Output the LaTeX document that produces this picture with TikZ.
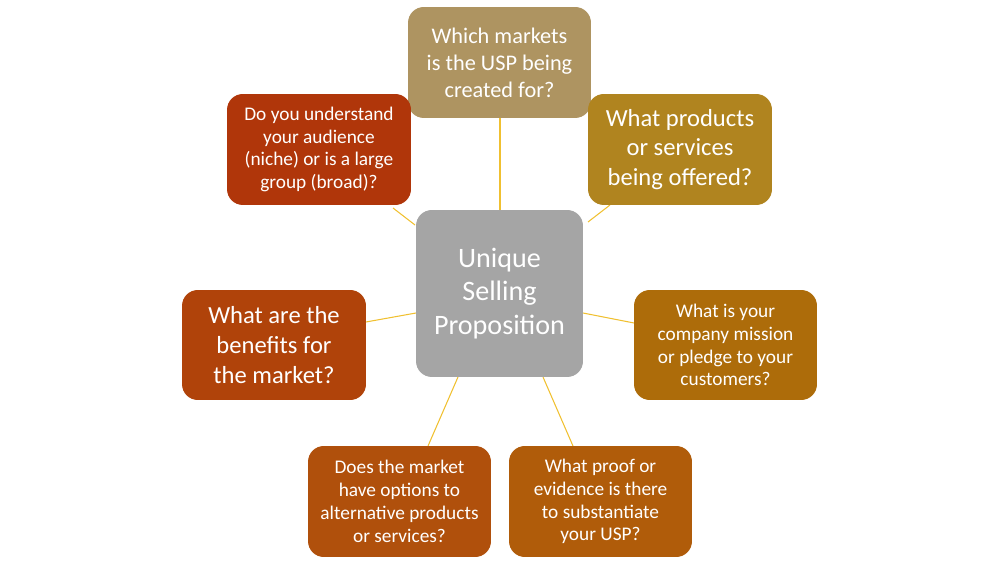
\documentclass[tikz,border=0pt]{standalone}
\usepackage{fontspec}
\setmainfont{Carlito}
\begin{document}
\begin{tikzpicture}[x=0.02cm,y=-0.02cm,
 box/.style={rounded corners=9pt,text=white,align=center,inner sep=0pt},
 link/.style={draw={rgb,255:red,240;green,192;blue,48},line width=0.6pt}]
\useasboundingbox (0,0) rectangle (1000,563);
\definecolor{cC}{HTML}{A5A5A5}
\definecolor{cT}{HTML}{AE9461}
\definecolor{cTR}{HTML}{B0841F}
\definecolor{cR}{HTML}{AD6C0A}
\definecolor{cBR}{HTML}{B05C0A}
\definecolor{cBL}{HTML}{B0500C}
\definecolor{cL}{HTML}{B0430A}
\definecolor{cTL}{HTML}{B0360A}
\coordinate (ct) at (500,210); \coordinate (ctr) at (588,222);
\coordinate (cr) at (583,313); \coordinate (cbr) at (543,377);
\coordinate (cbl) at (458,377); \coordinate (cl) at (416,313);
\coordinate (ctl) at (415,225);
\coordinate (et) at (500,118); \coordinate (etr) at (610,205);
\coordinate (er) at (634,323); \coordinate (ebr) at (573,446);
\coordinate (ebl) at (428,446); \coordinate (el) at (366,322);
\coordinate (etl) at (393,208);
\foreach \a/\b in {ct/et,ctr/etr,cr/er,cbr/ebr,cbl/ebl,cl/el,ctl/etl}
  \draw[link] (\a) -- (\b);
\node[box,fill=cC,minimum width=3.34cm,minimum height=3.34cm,font=\fontsize{16}{19}\selectfont] (c) at (499.5,293.5) {Unique\\Selling\\Proposition};
\node[box,fill=cT,minimum width=3.66cm,minimum height=2.22cm,font=\fontsize{12.7}{15.3}\selectfont] (t) at (499.5,62.5) {Which markets\\is the USP being\\created for?};
\node[box,fill=cTR,minimum width=3.68cm,minimum height=2.22cm,font=\fontsize{14}{17}\selectfont] (tr) at (680,149.5) {What products\\or services\\being offered?};
\node[box,fill=cR,minimum width=3.66cm,minimum height=2.2cm,font=\fontsize{11}{13}\selectfont] (r) at (725.5,345) {What is your\\company mission\\or pledge to your\\customers?};
\node[box,fill=cBR,minimum width=3.66cm,minimum height=2.22cm,font=\fontsize{11}{13}\selectfont] (br) at (600.5,501.5) {What proof or\\evidence is there\\to substantiate\\your USP?};
\node[box,fill=cBL,minimum width=3.66cm,minimum height=2.22cm,font=\fontsize{11}{13}\selectfont] (bl) at (399.5,501.5) {Does the market\\have options to\\alternative products\\or services?};
\node[box,fill=cL,minimum width=3.68cm,minimum height=2.2cm,font=\fontsize{14}{17}\selectfont] (l) at (274,345) {What are the\\benefits for\\the market?};
\node[box,fill=cTL,minimum width=3.68cm,minimum height=2.22cm,font=\fontsize{11}{13}\selectfont] (tl) at (319,149.5) {Do you understand\\your audience\\(niche) or is a large\\group (broad)?};
\end{tikzpicture}
\end{document}
